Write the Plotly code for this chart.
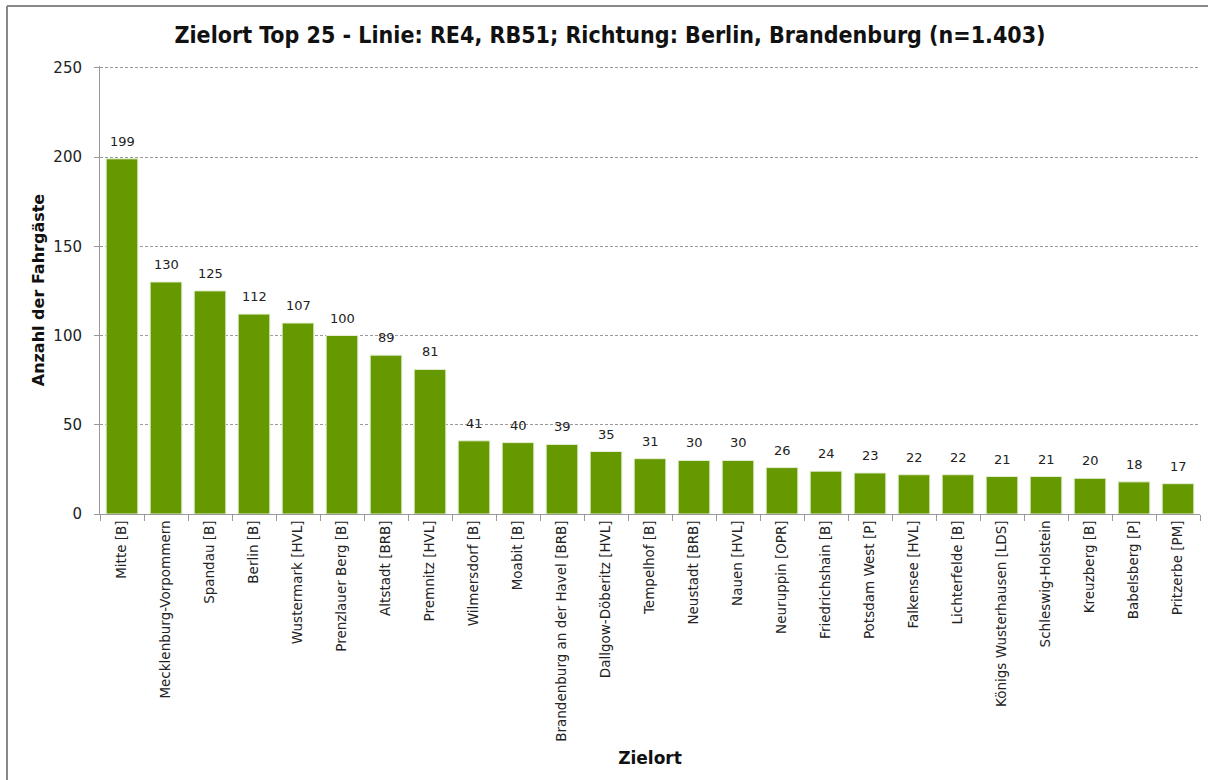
import plotly.graph_objects as go

categories = [
    "Mitte [B]", "Mecklenburg-Vorpommern", "Spandau [B]", "Berlin [B]", "Wustermark [HVL]",
    "Prenzlauer Berg [B]", "Altstadt [BRB]", "Premnitz [HVL]", "Wilmersdorf [B]", "Moabit [B]",
    "Brandenburg an der Havel [BRB]", "Dallgow-Döberitz [HVL]", "Tempelhof [B]", "Neustadt [BRB]",
    "Nauen [HVL]", "Neuruppin [OPR]", "Friedrichshain [B]", "Potsdam West [P]", "Falkensee [HVL]",
    "Lichterfelde [B]", "Königs Wusterhausen [LDS]", "Schleswig-Holstein", "Kreuzberg [B]",
    "Babelsberg [P]", "Pritzerbe [PM]",
]
values = [199, 130, 125, 112, 107, 100, 89, 81, 41, 40, 39, 35, 31, 30, 30, 26, 24, 23, 22, 22,
          21, 21, 20, 18, 17]
y_ticks = [0, 50, 100, 150, 200, 250]

font_main = "Tahoma, DejaVu Sans, sans-serif"

fig = go.Figure(go.Bar(
    x=categories, y=values,
    marker=dict(color="#669900", line=dict(color="#e6efd6", width=1)),
    width=0.72, hoverinfo="skip",
))

for c, v in zip(categories, values):
    fig.add_annotation(x=c, y=v, text=str(v), showarrow=False, yanchor="bottom", yshift=8,
                       font=dict(size=13, color="#222222", family=font_main))

fig.update_layout(
    width=1208, height=780,
    paper_bgcolor="white", plot_bgcolor="white",
    margin=dict(l=100, r=8, t=66, b=266, autoexpand=False),
    showlegend=False,
    title=dict(text="<b>Zielort Top 25 - Linie: RE4, RB51; Richtung: Berlin, Brandenburg (n=1.403)</b>",
               x=0.505, xanchor="center", y=1 - 35 / 780, yanchor="middle",
               font=dict(size=23, color="#111111", family="DejaVu Sans Condensed, Liberation Sans Narrow, sans-serif")),
    font=dict(family=font_main, color="#222222"),
)

fig.update_yaxes(
    range=[0, 251], tickvals=y_ticks, ticks="outside", ticklen=5, tickcolor="#999999",
    showline=True, linecolor="#999999", linewidth=1,
    showgrid=True, gridcolor="#9a9a9a", griddash="3px,2px", gridwidth=1,
    tickfont=dict(size=15, color="#222222", family=font_main), ticklabelstandoff=9,
    title=dict(text="<b>Anzahl der Fahrgäste</b>", standoff=4,
               font=dict(size=16, color="#111111", family=font_main)),
    zeroline=False,
)
fig.update_xaxes(
    tickangle=-90, ticks="outside", ticklen=6, tickcolor="#999999", tickson="boundaries",
    showline=True, linecolor="#999999", linewidth=1,
    tickfont=dict(size=13.5, color="#222222", family=font_main),
    title=dict(text="<b>Zielort</b>", standoff=11,
               font=dict(size=17, color="#111111", family=font_main)),
    range=[-0.5, 24.5],
)

# outer chart frame (left and top edges visible)
fig.add_shape(type="line", xref="paper", yref="paper", x0=-93 / 1100, x1=-93 / 1100,
              y0=-0.6, y1=508 / 448, line=dict(color="#888888", width=2))
fig.add_shape(type="line", xref="paper", yref="paper", x0=-93 / 1100, x1=1.01,
              y0=508 / 448, y1=508 / 448, line=dict(color="#888888", width=2))

fig.write_html("out.html", config={"displayModeBar": False},
               post_script="document.body.style.margin='0';")
